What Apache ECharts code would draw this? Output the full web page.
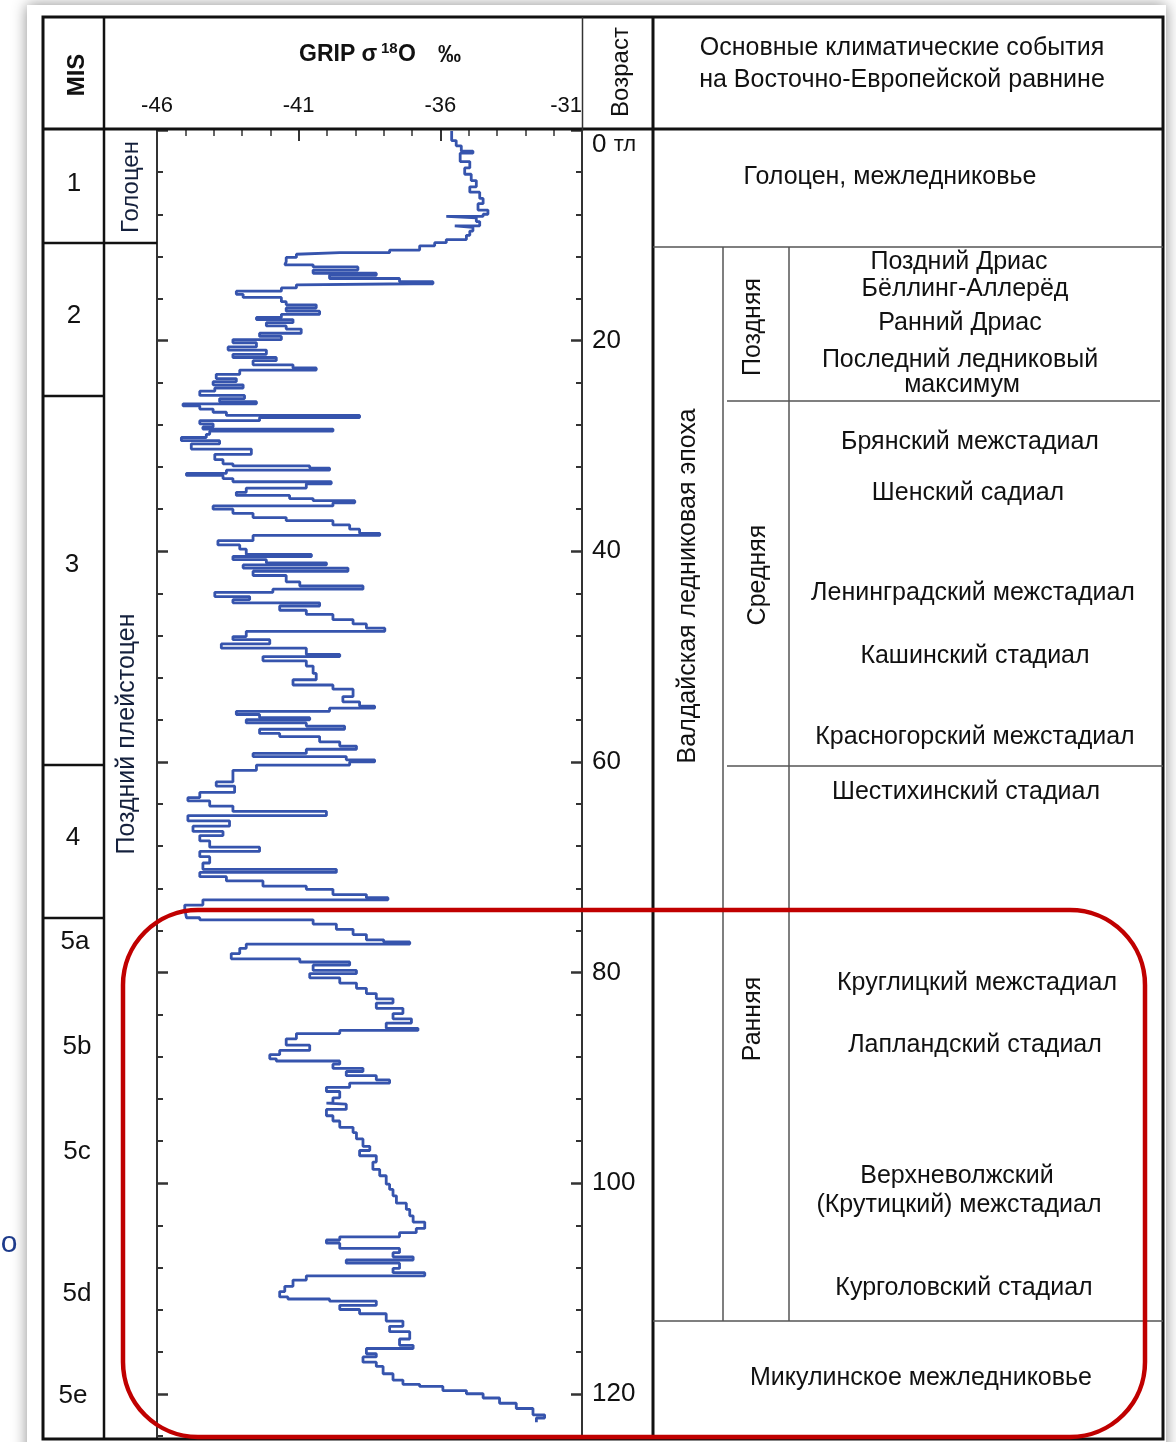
<!DOCTYPE html>
<html>
<head>
<meta charset="utf-8">
<script src="https://cdn.jsdelivr.net/npm/echarts@6/dist/echarts.min.js"></script>
<style>
  html, body { margin: 0; padding: 0; background: #ffffff; }
  #chart { width: 1176px; height: 1442px; }
</style>
</head>
<body>
<div id="chart"></div>
<script>
// GRIP δ18O record, pairs of [age (ka), δ18O (‰)], split by marine isotope stage
const mis1Record = [
  [0.1, -35.6], [1.0, -35.44], [1.5, -35.26], [2.0, -34.85], [2.2, -35.3], [3.0, -34.96],
  [3.6, -35.14], [4.2, -34.91], [4.8, -34.73], [5.4, -34.96], [5.9, -34.61], [6.5, -34.49],
  [7.0, -34.67], [7.6, -34.32], [8.0, -34.49], [8.2, -35.79], [8.35, -34.73], [8.7, -34.61],
  [9.1, -35.49], [9.25, -34.85], [9.6, -34.96], [10.0, -35.08], [10.4, -35.79]
];
const mis2Record = [
  [10.7, -36.2], [11.0, -36.73], [11.4, -37.79], [11.65, -39.55], [11.8, -41.08], [12.1, -41.44],
  [12.5, -41.49], [12.8, -40.49], [13.0, -38.91], [13.3, -40.49], [13.6, -38.26], [13.8, -39.91],
  [14.1, -37.44], [14.4, -36.26], [14.6, -36.96], [14.7, -41.08], [15.0, -41.61], [15.3, -43.2],
  [15.6, -42.96], [15.9, -41.61], [16.3, -41.44], [16.6, -40.38], [16.9, -41.44], [17.2, -40.26],
  [17.5, -41.61], [17.8, -42.49], [18.0, -41.2], [18.3, -42.14], [18.6, -41.44], [18.9, -40.91],
  [19.3, -42.38], [19.6, -41.61], [19.9, -43.32], [20.2, -42.49], [20.6, -43.49], [20.9, -42.14],
  [21.3, -43.32], [21.6, -41.79], [21.9, -42.61], [22.3, -41.2], [22.6, -40.38], [22.8, -43.08],
  [23.2, -43.91], [23.6, -43.2], [23.9, -44.02], [24.2, -42.96], [24.5, -43.96], [24.8, -44.49]
];
const mis3Record = [
  [25.2, -42.91], [25.5, -43.79], [25.8, -42.49], [26.0, -45.08], [26.2, -44.49], [26.5, -44.02],
  [26.8, -43.55], [27.1, -38.85], [27.3, -42.38], [27.6, -44.49], [27.9, -44.02], [28.2, -44.38],
  [28.4, -39.79], [28.6, -44.14], [28.9, -44.26], [29.2, -45.14], [29.5, -43.79], [29.8, -44.79],
  [30.3, -42.67], [30.8, -43.96], [31.3, -43.67], [31.7, -43.32], [31.9, -40.61], [32.1, -39.91],
  [32.3, -43.55], [32.6, -44.96], [32.8, -43.67], [33.1, -43.32], [33.4, -39.85], [33.6, -40.73],
  [34.0, -42.85], [34.4, -43.2], [34.7, -41.32], [35.0, -40.49], [35.2, -39.02], [35.4, -39.79],
  [35.7, -44.02], [36.0, -43.32], [36.4, -42.61], [36.8, -41.44], [37.1, -39.79], [37.5, -39.2],
  [37.9, -38.85], [38.3, -38.14], [38.5, -42.61], [39.0, -43.85], [39.4, -43.08], [39.8, -42.85],
  [40.3, -40.55], [40.5, -43.32], [40.8, -42.14], [41.1, -40.02], [41.3, -42.96], [41.6, -39.26],
  [41.9, -42.61], [42.3, -41.44], [42.9, -40.96], [43.3, -38.73], [43.6, -41.91], [43.9, -43.96],
  [44.3, -42.73], [44.6, -43.32], [44.9, -40.26], [45.2, -41.67], [45.6, -40.73], [46.0, -39.79],
  [46.5, -39.08], [46.9, -38.61], [47.3, -37.96], [47.6, -42.85], [48.1, -43.32], [48.4, -42.02],
  [48.8, -43.73], [49.2, -40.73], [49.8, -39.55], [50.0, -42.26], [50.4, -40.73], [50.9, -40.49],
  [51.6, -40.38], [52.2, -41.2], [52.7, -39.79], [53.1, -39.08], [53.8, -39.44], [54.3, -38.85],
  [54.7, -38.32], [54.9, -39.91], [55.2, -43.2], [55.5, -42.38], [55.8, -40.61], [56.0, -42.85],
  [56.3, -40.73], [56.6, -39.38], [56.9, -42.38], [57.3, -41.67], [57.6, -40.26], [58.1, -39.55],
  [58.5, -38.96], [58.8, -40.73], [59.2, -42.61], [59.5, -39.32], [59.8, -38.32], [60.0, -39.2]
];
const mis4Record = [
  [60.3, -42.49], [60.8, -43.32], [61.3, -43.32], [61.9, -43.91], [62.3, -43.26], [62.9, -44.49],
  [63.4, -44.91], [63.7, -44.14], [64.2, -43.32], [64.7, -40.02], [65.1, -44.91], [65.6, -43.44],
  [66.1, -44.73], [66.6, -43.67], [67.0, -44.49], [67.5, -44.14], [68.1, -42.38], [68.5, -44.49],
  [69.0, -44.14], [69.6, -44.38], [70.2, -39.67], [70.5, -44.49], [70.9, -43.55], [71.3, -42.26],
  [71.8, -40.73], [72.1, -39.79], [72.6, -38.61], [72.9, -37.85], [73.1, -44.38], [73.6, -45.02],
  [74.0, -44.96]
];
const mis5Record = [
  [74.8, -44.49], [75.0, -40.49], [75.4, -39.67], [75.9, -39.08], [76.4, -38.61], [76.9, -38.0],
  [77.1, -37.08], [77.3, -42.85], [77.7, -43.08], [78.2, -43.38], [78.7, -40.96], [79.0, -39.2],
  [79.3, -40.49], [79.8, -38.96], [80.1, -40.61], [80.5, -39.55], [81.0, -38.96], [81.5, -38.61],
  [82.0, -38.26], [82.5, -37.67], [82.9, -38.26], [83.4, -37.32], [83.9, -37.67], [84.4, -37.02],
  [84.8, -37.91], [85.3, -36.79], [85.5, -39.55], [85.8, -41.08], [86.3, -41.44], [86.9, -40.61],
  [87.4, -41.67], [87.8, -42.02], [88.2, -41.79], [88.4, -39.55], [88.7, -39.79], [89.1, -38.73],
  [89.4, -39.32], [89.8, -38.26], [90.2, -37.79], [90.5, -39.2], [90.9, -40.02], [91.3, -39.55],
  [91.9, -39.79], [92.4, -40.02], [92.5, -39.32], [93.0, -40.02], [93.6, -39.79], [94.1, -39.55],
  [94.7, -39.08], [95.2, -38.96], [95.8, -38.73], [96.5, -38.49], [96.9, -38.85], [97.4, -38.26],
  [98.0, -38.38], [98.7, -38.14], [99.3, -37.91], [100.1, -37.79], [100.6, -37.67], [101.2, -37.55],
  [101.9, -37.2], [102.5, -37.08], [103.1, -36.96], [103.7, -36.55], [104.3, -36.85], [104.7, -37.44],
  [105.1, -39.55], [105.4, -40.02], [105.7, -39.55], [106.2, -37.44], [106.6, -37.67], [107.0, -36.96],
  [107.3, -39.32], [107.6, -37.44], [108.1, -37.67], [108.5, -36.55], [108.8, -40.73], [109.2, -41.2],
  [109.8, -41.49], [110.3, -41.67], [110.8, -41.38], [111.0, -39.91], [111.2, -38.26], [111.6, -39.55],
  [112.0, -38.85], [112.4, -37.91], [113.1, -37.32], [113.6, -37.79], [114.1, -37.08], [114.8, -37.44],
  [115.4, -36.96], [115.7, -38.61], [116.2, -38.26], [116.5, -38.73], [117.0, -38.26], [117.4, -38.02],
  [118.1, -37.67], [118.7, -37.32], [119.1, -36.73], [119.3, -35.91], [119.7, -35.08], [120.0, -34.49],
  [120.4, -33.91], [120.9, -33.32], [121.4, -32.73], [122.0, -32.32], [122.3, -32.61], [122.7, -32.61]
];

// Axis ticks
const d18OMajorTicks = [-46, -41, -36, -31];
const d18OMinorTicks = [-45, -44, -43, -42, -40, -39, -38, -37, -35, -34, -33, -32];
const ageMajorTicks = [0, 20, 40, 60, 80, 100, 120];
const ageMinorTicks = [4, 8, 12, 16, 24, 28, 32, 36, 44, 48, 52, 56, 64, 68, 72, 76,
                       84, 88, 92, 96, 104, 108, 112, 116, 124];

// Table contents
const misStages = ['1', '2', '3', '4', '5a', '5b', '5c', '5d', '5e'];
const epochNames = ['Голоцен', 'Поздний плейстоцен'];
const headerTitle = ['Основные климатические события', 'на Восточно-Европейской равнине'];
const holoceneEvent = 'Голоцен, межледниковье';
const glacialEpoch = 'Валдайская ледниковая эпоха';
const glacialSubdivisions = ['Поздняя', 'Средняя', 'Ранняя'];
const climateEvents = [
  'Поздний Дриас', 'Бёллинг-Аллерёд', 'Ранний Дриас', 'Последний ледниковый', 'максимум',
  'Брянский межстадиал', 'Шенский садиал', 'Ленинградский межстадиал', 'Кашинский стадиал',
  'Красногорский межстадиал', 'Шестихинский стадиал', 'Круглицкий межстадиал',
  'Лапландский стадиал', 'Верхневолжский', '(Крутицкий) межстадиал', 'Курголовский стадиал',
  'Микулинское межледниковье'
];

const FONT = '"Liberation Sans", Arial, sans-serif';
const INK = '#111111';

// ---- layout (pixels) ----
const misLabelPos = [[74,184],[74,316],[72,565],[73,838],[75,942],[77,1047],[77,1152],[77,1294],[73,1396]];
const eventPos = [[959,262],[965,289],[960,323],[960,360],[962,385],[970,442],[968,493],[973,593],
                  [975,656],[975,737],[966,792],[977,983],[975,1045],[957,1176],[959,1205],[964,1288],[921,1378]];
const subdivisionPos = [[753,327],[758,575],[753,1019]];

function text(str, x, y, size, opt) {
  opt = opt || {};
  return {
    type: 'text', x: x, y: y, rotation: opt.rot || 0, z: 20, silent: true,
    style: {
      text: str, fill: opt.color || INK, fontSize: size, fontFamily: FONT,
      fontWeight: opt.bold ? 'bold' : 'normal',
      align: opt.align || 'center', verticalAlign: 'middle'
    }
  };
}
function line(x1, y1, x2, y2, w, c) {
  return { type: 'line', z: 15, silent: true,
    shape: { x1: x1, y1: y1, x2: x2, y2: y2 },
    style: { stroke: c || INK, lineWidth: w || 2.5 } };
}

const ROT = Math.PI / 2;
const graphics = [];

// card with shadow behind the table
graphics.push({ type: 'rect', z: -10, silent: true,
  shape: { x: 27, y: 5, width: 1139, height: 1460 },
  style: { fill: '#ffffff', shadowBlur: 14, shadowColor: 'rgba(0,0,0,0.45)' } });
graphics.push(text('о', 9, 1244, 30, { color: '#1d3a8a' }));

// table frame
graphics.push({ type: 'rect', z: 15, silent: true,
  shape: { x: 43, y: 17, width: 1120, height: 1422 },
  style: { fill: 'none', stroke: INK, lineWidth: 3 } });
graphics.push(line(43, 129, 1163, 129, 3));
graphics.push(line(104, 17, 104, 1439, 2.5));
graphics.push(line(582.5, 17, 582.5, 131, 1.5, '#333'));
graphics.push(line(653, 17, 653, 1439, 3));
graphics.push(line(43, 243, 157, 243, 2.5));
graphics.push(line(43, 396, 104, 396, 2.5));
graphics.push(line(43, 765, 104, 765, 2.5));
graphics.push(line(43, 918, 104, 918, 2.5));
// right-hand column rulings
const thin = '#555555';
graphics.push(line(653, 247, 1163, 247, 1.5, thin));
graphics.push(line(723, 247, 723, 1321, 1.5, thin));
graphics.push(line(789, 247, 789, 1321, 1.5, thin));
graphics.push(line(727, 401, 1160, 401, 1.5, thin));
graphics.push(line(727, 766, 1163, 766, 1.5, thin));
graphics.push(line(653, 1321, 1163, 1321, 1.5, thin));

// header
graphics.push(text('MIS', 77, 75, 24, { bold: true, rot: ROT }));
graphics.push(text('GRIP σ', 299, 55, 23, { bold: true, align: 'left' }));
graphics.push(text('18', 381, 49, 15, { bold: true, align: 'left' }));
graphics.push(text('O', 398, 55, 23, { bold: true, align: 'left' }));
graphics.push(text('‰', 438, 56, 23, { bold: true, align: 'left' }));
graphics.push(text('Возраст', 621, 72, 24, { rot: ROT }));
graphics.push(text(headerTitle[0], 902, 48, 25));
graphics.push(text(headerTitle[1], 902, 80, 25));

// left columns
misStages.forEach(function (s, i) {
  graphics.push(text(s, misLabelPos[i][0], misLabelPos[i][1], 26));
});
graphics.push(text(epochNames[0], 131, 187, 24, { rot: ROT, color: '#14203c' }));
graphics.push(text(epochNames[1], 127, 734, 25, { rot: ROT, color: '#14203c' }));

// climatic events column
graphics.push(text(holoceneEvent, 890, 177, 25));
graphics.push(text(glacialEpoch, 688, 586, 25, { rot: ROT }));
glacialSubdivisions.forEach(function (s, i) {
  graphics.push(text(s, subdivisionPos[i][0], subdivisionPos[i][1], 25, { rot: ROT }));
});
climateEvents.forEach(function (s, i) {
  graphics.push(text(s, eventPos[i][0], eventPos[i][1], 25));
});

// highlight around the early Valdai / Mikulino interval
graphics.push({ type: 'rect', z: 50, silent: true,
  shape: { x: 123, y: 910, width: 1022, height: 527, r: 75 },
  style: { fill: 'none', stroke: '#c00000', lineWidth: 4.5 } });

// ---- chart ----
const record = [].concat(mis1Record, mis2Record, mis3Record, mis4Record, mis5Record)
  .map(function (p) { return [p[1], p[0]]; });

const tickColor = '#333333';
function xAxisDef(ticks, len, w, withLabels) {
  return {
    type: 'value', position: 'top', min: -46, max: -31,
    axisLine: { show: false, onZero: false },
    splitLine: { show: false },
    axisTick: { show: true, inside: true, length: len, customValues: ticks,
                lineStyle: { color: tickColor, width: w } },
    axisLabel: withLabels ? {
      show: true, customValues: ticks, margin: 13, fontSize: 22, fontFamily: FONT, color: INK,
      alignMaxLabel: 'right'
    } : { show: false }
  };
}
function yAxisDef(pos, ticks, len, w, withLabels) {
  return {
    type: 'value', position: pos, inverse: true, min: 0, max: 124.2,
    axisLine: { show: true, onZero: false, lineStyle: { color: tickColor, width: 2 } },
    splitLine: { show: false },
    axisTick: { show: true, inside: true, length: len, customValues: ticks,
                lineStyle: { color: tickColor, width: w } },
    axisLabel: withLabels ? {
      show: true, customValues: ticks, margin: 10, fontSize: 26, fontFamily: FONT, color: INK,
      lineHeight: 30,
      formatter: function (v) { return v === 0 ? '\n{z|0} {t|тл}' : String(v); },
      rich: {
        z: { fontSize: 26, fontFamily: FONT, color: INK, lineHeight: 30 },
        t: { fontSize: 22, fontFamily: FONT, color: INK, lineHeight: 30 }
      }
    } : { show: false }
  };
}

const chart = echarts.init(document.getElementById('chart'), null, { renderer: 'canvas' });
chart.setOption({
  animation: false,
  backgroundColor: 'transparent',
  grid: { left: 157, top: 130, width: 425, height: 1308, containLabel: false },
  xAxis: [
    xAxisDef(d18OMajorTicks, 11, 2, true),
    xAxisDef(d18OMinorTicks, 6, 1.5, false)
  ],
  yAxis: [
    yAxisDef('left', ageMajorTicks, 11, 2.5, false),
    yAxisDef('left', ageMinorTicks, 6, 2, false),
    yAxisDef('right', ageMajorTicks, 11, 2.5, true),
    yAxisDef('right', ageMinorTicks, 6, 2, false)
  ],
  series: [
    { type: 'line', xAxisIndex: 0, yAxisIndex: 0, data: record, step: 'start',
      symbol: 'none', silent: true, z: 3, lineStyle: { color: '#3654ad', width: 2.8 } }
  ],
  graphic: { elements: graphics }
});
</script>
</body>
</html>
